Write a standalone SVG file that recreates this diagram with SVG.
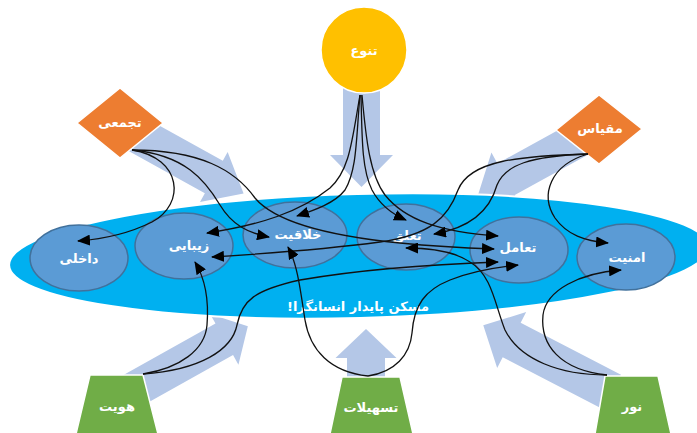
<svg xmlns="http://www.w3.org/2000/svg" width="697" height="433" viewBox="0 0 697 433">
<style>
.big{fill:#B4C7E7}
.lbl{font-family:"DejaVu Sans",sans-serif;font-weight:bold;font-size:13px;fill:#fff;text-anchor:middle;direction:rtl}
.inner{fill:#5B9BD5;stroke:#41719C;stroke-width:1.5}
.con{fill:none;stroke:#111;stroke-width:1.3;marker-end:url(#ah)}
.dia{fill:#ED7D31;stroke:#fff;stroke-width:1.5}
.trap{fill:#70AD47;stroke:#fff;stroke-width:1.5}
</style>
<defs>
<marker id="ah" markerWidth="13" markerHeight="11" refX="12" refY="5.5" orient="auto" markerUnits="userSpaceOnUse"><path d="M0,0 L13,5.5 L0,11 z" fill="#000"/></marker>
</defs>
<rect width="697" height="433" fill="#fff"/>
<g id="big-arrows">
<polygon class="big" transform="translate(361.5,50) rotate(90)" points="0,-18.5 105,-18.5 105,-31.5 137,0 105,31.5 105,18.5 0,18.5"/>
<polygon class="big" transform="translate(129,130) rotate(29)" points="0,-18.5 97,-18.5 97,-28.5 131,0 97,28.5 97,18.5 0,18.5"/>
<polygon class="big" transform="translate(592,132) rotate(151.2)" points="0,-18 98,-18 98,-30.5 130,0 98,30.5 98,18 0,18"/>
<polygon class="big" transform="translate(130,392) rotate(-29.2)" points="0,-18 108,-18 108,-29 135,0 108,29 108,18 0,18"/>
<polygon class="big" transform="translate(366,400) rotate(-90)" points="0,-19 42,-19 42,-30.5 71,0 42,30.5 42,19 0,19"/>
<polygon class="big" transform="translate(612,392) rotate(-152.6)" points="0,-19.5 113,-19.5 113,-31.5 145,0 113,31.5 113,19.5 0,19.5"/>
</g>
<g id="maskan">
<ellipse cx="359" cy="256" rx="350" ry="62" transform="rotate(-1.5 359 256)" fill="#00B0F0" stroke="#fff" stroke-width="2"/>
<text class="lbl" x="358" y="311" font-size="13.5">مسکن پایدار انسانگرا!</text>
</g>
<g id="dakheli"><ellipse class="inner" cx="79" cy="258" rx="49" ry="33"/><text class="lbl" x="79" y="263">داخلی</text></g>
<g id="zibaei"><ellipse class="inner" cx="184" cy="246" rx="49" ry="33"/><text class="lbl" x="189" y="250">زیبایی</text></g>
<g id="khalaghiat"><ellipse class="inner" cx="295" cy="235" rx="52" ry="33"/><text class="lbl" x="298" y="239">خلاقیت</text></g>
<g id="taalogh"><ellipse class="inner" cx="406" cy="237" rx="49" ry="33"/><text class="lbl" x="407" y="240">تعلق</text></g>
<g id="taamol"><ellipse class="inner" cx="519" cy="250" rx="49" ry="33"/><text class="lbl" x="518" y="252">تعامل</text></g>
<g id="amniat"><ellipse class="inner" cx="626" cy="257" rx="49" ry="33"/><text class="lbl" x="627" y="262">امنیت</text></g>
<g id="tanavo"><circle cx="364" cy="50" r="43" fill="#FFC000" stroke="#fff" stroke-width="1.5"/><text class="lbl" x="364" y="55">تنوع</text></g>
<g id="tajamoi"><polygon class="dia" points="77,123 120,88 163,123 120,158"/><text class="lbl" x="120" y="127">تجمعی</text></g>
<g id="meghias"><polygon class="dia" points="556,130 599,95 642,129 599,164"/><text class="lbl" x="600" y="133">مقیاس</text></g>
<g id="hoviat"><polygon class="trap" points="90,375 143,375 158,434 76,434"/><text class="lbl" x="117" y="411">هویت</text></g>
<g id="tashilat"><polygon class="trap" points="342,377 400,377 413,434 330,434"/><text class="lbl" x="371" y="412">تسهیلات</text></g>
<g id="noor"><polygon class="trap" points="605,376 658,376 671,434 595,434"/><text class="lbl" x="632" y="411">نور</text></g>
<g id="connectors">
<path class="con" d="M132,150 C182,158 186,204 152,222 C128,234 104,239 78,241"/>
<path class="con" d="M132,150 C185,155 205,180 220,205 C232,225 248,233 269,237"/>
<path class="con" d="M132,150 C200,150 235,170 255,198 C275,222 330,236 400,243 C440,247 465,248 494,249"/>
<path class="con" d="M360,95 C352,140 350,170 330,188 C300,212 260,225 207,233"/>
<path class="con" d="M360,95 C356,140 357,170 345,190 C335,203 315,210 297,216"/>
<path class="con" d="M361,95 C362,140 362,170 372,190 C380,205 392,214 406,220"/>
<path class="con" d="M362,95 C366,140 370,175 385,195 C405,220 440,232 498,236"/>
<path class="con" d="M588,154 C530,156 505,165 497,185 C490,210 470,228 434,234"/>
<path class="con" d="M588,154 C520,156 470,160 458,190 C448,218 430,235 380,242 C320,250 260,254 212,257"/>
<path class="con" d="M588,154 C550,165 540,195 555,218 C567,235 585,241 608,243"/>
<path class="con" d="M607,375 C560,375 520,360 505,330 C495,305 492,275 470,262 C455,252 430,248 406,248"/>
<path class="con" d="M607,375 C560,370 540,345 543,315 C546,290 580,273 621,270"/>
<path class="con" d="M368,376 C330,372 310,350 305,320 C301,295 298,265 288,247"/>
<path class="con" d="M368,376 C395,372 410,355 412,333 C414,305 425,290 450,280 C470,272 490,268 518,265"/>
<path class="con" d="M143,374 C180,368 205,350 207,325 C209,300 206,280 195,262"/>
<path class="con" d="M143,374 C200,370 232,350 237,325 C242,300 255,290 300,280 C370,268 440,264 498,262"/>
</g>
</svg>
